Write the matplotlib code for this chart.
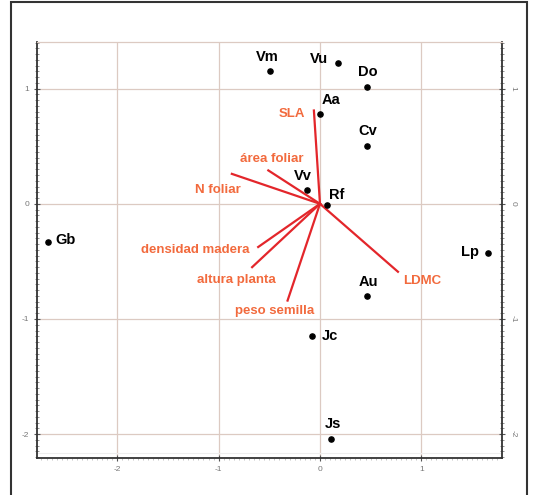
import matplotlib.pyplot as plt
from matplotlib.patches import Rectangle
from matplotlib.ticker import MultipleLocator

# species scores
species = ['Vm', 'Vu', 'Do', 'Aa', 'Cv', 'Vv', 'Rf', 'Au', 'Gb', 'Lp', 'Jc', 'Js']
sp_x = [-0.49, 0.18, 0.46, 0.00, 0.46, -0.13, 0.07, 0.46, -2.69, 1.66, -0.08, 0.11]
sp_y = [1.15, 1.22, 1.01, 0.78, 0.50, 0.12, -0.01, -0.80, -0.33, -0.43, -1.15, -2.04]

# trait vectors
traits = ['SLA', 'área foliar', 'N foliar', 'densidad madera',
          'altura planta', 'peso semilla', 'LDMC']
tr_x = [-0.06, -0.51, -0.87, -0.61, -0.67, -0.32, 0.77]
tr_y = [0.81, 0.29, 0.26, -0.375, -0.55, -0.84, -0.59]

# label offsets (points) for species and position of trait labels
sp_off = [(-2, 10), (-14, 3), (1, 11), (8, 10), (1, 11), (-3, 10),
          (7, 7), (1, 10), (13, 1), (-13, 1), (13, 0), (1, 11)]
tr_lab = [(-0.15, 0.78, 'right'), (-0.16, 0.39, 'right'), (-0.78, 0.12, 'right'),
          (-0.70, -0.40, 'right'), (-0.44, -0.66, 'right'), (-0.06, -0.93, 'right'),
          (0.82, -0.67, 'left')]

plt.rcParams['font.family'] = ['Liberation Sans', 'DejaVu Sans']
plt.rcParams['axes.unicode_minus'] = False

fig = plt.figure(figsize=(5.33, 4.95), dpi=100)
ax = fig.add_axes([0.0694, 0.0747, 0.8724, 0.8405])

grid_col = '#dccac2'
for v in [-2, -1, 0, 1]:
    ax.axvline(v, color=grid_col, lw=0.9, zorder=0)
    ax.axhline(v, color=grid_col, lw=0.9, zorder=0)
ax.axhline(-2.16, color='#eeeeee', lw=0.8, zorder=0)

for i, t in enumerate(traits):
    ax.plot([0, tr_x[i]], [0, tr_y[i]], color='#e3262b', lw=1.6, zorder=2)
    lx, ly, ha = tr_lab[i]
    ax.text(lx, ly, t, color='#f26a3d', fontsize=9.5, fontweight='bold',
            ha=ha, va='center', zorder=3)

ax.scatter(sp_x, sp_y, s=14, color='black', zorder=4)
for i, s in enumerate(species):
    ax.annotate(s, (sp_x[i], sp_y[i]), xytext=sp_off[i], textcoords='offset points',
                ha='center', va='center', fontsize=10.5, fontweight='bold', zorder=5)

ax.set_xlim(-2.794, 1.797)
ax.set_ylim(-2.207, 1.405)
ax.set_xticks([-2, -1, 0, 1])
ax.set_yticks([-2, -1, 0, 1])
ax.xaxis.set_minor_locator(MultipleLocator(0.05))
ax.yaxis.set_minor_locator(MultipleLocator(0.05))
ax.tick_params(axis='both', which='major', labelsize=6, labelcolor='#777777',
               color='#555555', length=4, direction='inout', width=0.8)
ax.tick_params(axis='y', which='minor', length=3, direction='inout',
               color='#666666', width=0.5, right=True)
ax.tick_params(axis='x', which='minor', length=1.5, direction='out',
               color='#999999', width=0.4)
ax.tick_params(axis='y', which='major', right=True, labelright=True)

for side in ['left', 'bottom', 'right']:
    ax.spines[side].set_color('#333333')
    ax.spines[side].set_linewidth(1.3)
ax.spines['top'].set_color(grid_col)
ax.spines['top'].set_linewidth(0.9)

# right-hand labels are turned
for t in ax.yaxis.majorTicks:
    t.label2.set_rotation(-90)
    t.label2.set_va('center')

fig.add_artist(Rectangle((11 / 533, -0.05), 516 / 533, 1.046, transform=fig.transFigure,
                         fill=False, edgecolor='#333333', lw=1.5))

fig.savefig('out.png', dpi=100)
